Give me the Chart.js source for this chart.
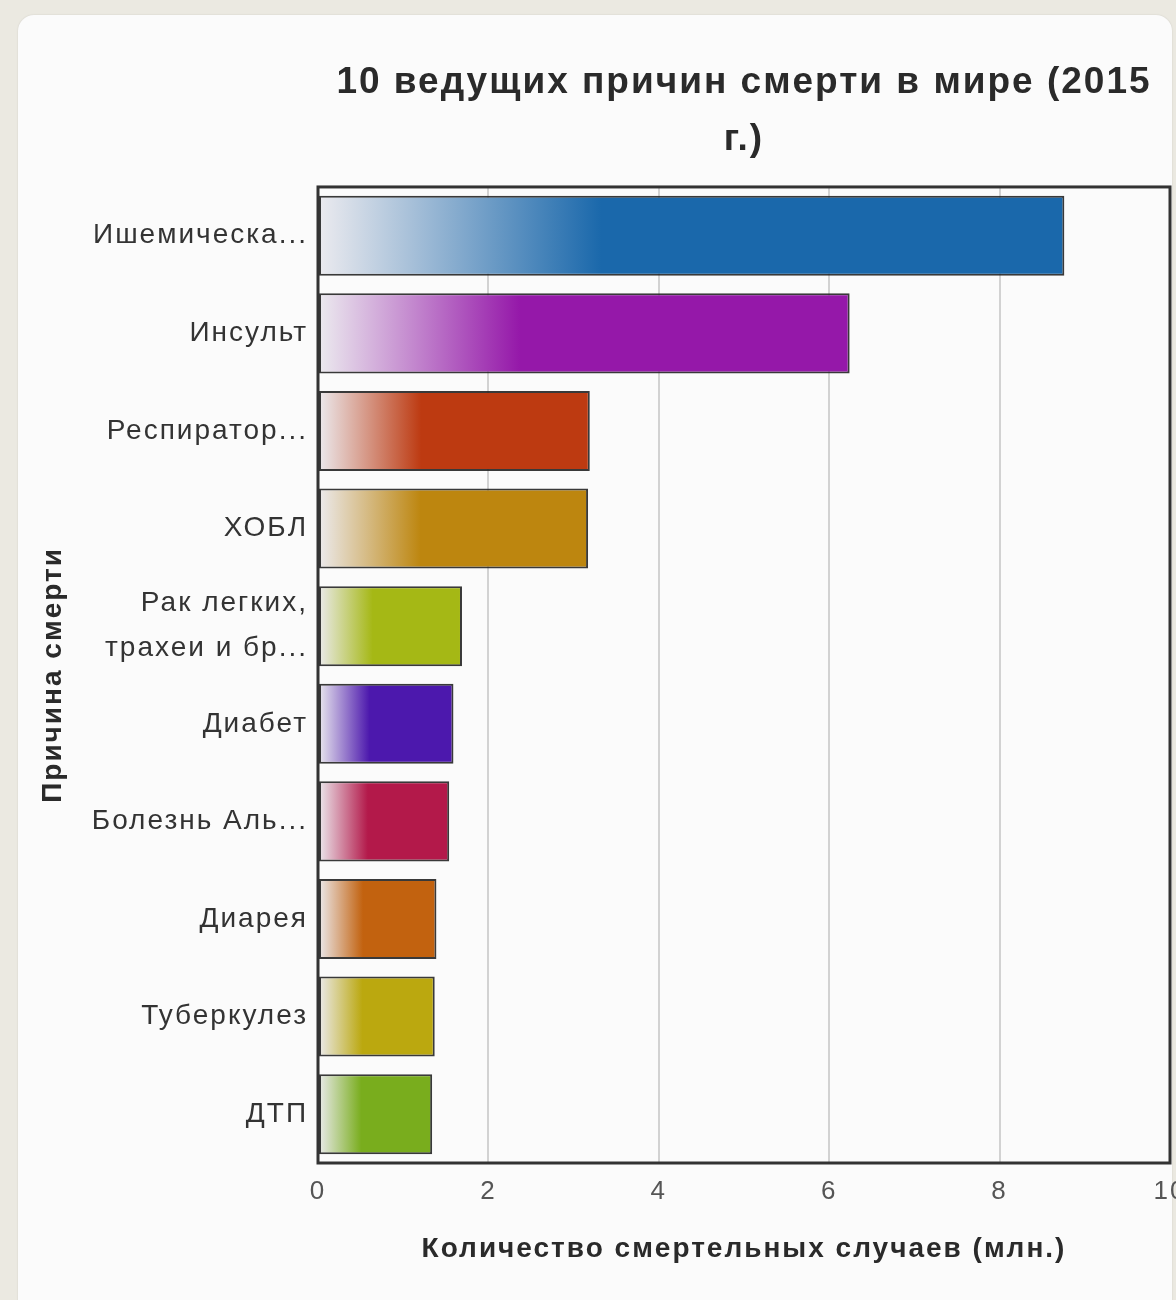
<!DOCTYPE html>
<html>
<head>
<meta charset="utf-8">
<script src="https://cdn.jsdelivr.net/npm/chart.js@4/dist/chart.umd.min.js"></script>
<style>
  html, body { margin: 0; padding: 0; }
  body {
    width: 1176px; height: 1300px; overflow: hidden; position: relative;
    background: #ebe9e1;
  }
  .card {
    position: absolute; left: 18px; top: 15px; width: 1154px; height: 1310px;
    background: #fbfbfb; border-radius: 16px;
    box-shadow: 0 0 2px rgba(0,0,0,0.12);
  }
  #wrap { position: absolute; left: 0; top: 0; width: 1176px; height: 1300px; }
</style>
</head>
<body>
<div class="card"></div>
<div id="wrap"><canvas id="chart" width="1176" height="1300"></canvas></div>
<script>
// causes of death, top to bottom
const causes = [
  'Ишемическа...',
  'Инсульт',
  'Респиратор...',
  'ХОБЛ',
  ['Рак легких,', 'трахеи и бр...'],
  'Диабет',
  'Болезнь Аль...',
  'Диарея',
  'Туберкулез',
  'ДТП'
];
// deaths, millions
const deaths = [8.76, 6.24, 3.19, 3.17, 1.69, 1.59, 1.54, 1.39, 1.37, 1.34];
const barColors = [
  '#1a68ab', '#9518a9', '#bd3a11', '#bd860f', '#a5b815',
  '#4c18ad', '#b3194a', '#c2620f', '#bba80f', '#79ad1d'
];
const xTicks = [0, 2, 4, 6, 8, 10];

const chartTitle = ['10 ведущих причин смерти в мире (2015', 'г.)'];
const xTitle = 'Количество смертельных случаев (млн.)';
const yTitle = 'Причина смерти';

const FONT = '"Liberation Sans", Arial, sans-serif';

// fade each bar from a pale grey at its base to its full colour
function barFill(ctx) {
  const chart = ctx.chart;
  const color = barColors[ctx.dataIndex];
  if (!chart.chartArea || ctx.raw == null) return color;
  const xs = chart.scales.x;
  const x0 = xs.getPixelForValue(0);
  const x1 = xs.getPixelForValue(ctx.raw);
  const g = chart.ctx.createLinearGradient(x0, 0, x0 + (x1 - x0) * 0.38, 0);
  g.addColorStop(0, '#ecebef');
  g.addColorStop(1, color);
  return g;
}

// the original text is set a little wider than Arial
const spacing = {
  id: 'spacing',
  beforeUpdate(chart) { chart.ctx.letterSpacing = '2px'; },
  beforeDraw(chart) { chart.ctx.letterSpacing = '2px'; }
};

const frame = {
  id: 'frame',
  afterDatasetsDraw(chart) {
    const { ctx, chartArea: a } = chart;
    ctx.save();
    ctx.strokeStyle = '#333';
    ctx.lineWidth = 3;
    ctx.strokeRect(a.left, a.top, a.right - a.left, a.bottom - a.top);
    ctx.restore();
  }
};

new Chart(document.getElementById('chart'), {
  type: 'bar',
  data: {
    labels: causes,
    datasets: [{
      data: deaths,
      backgroundColor: barFill,
      borderColor: 'rgba(35,35,35,0.9)',
      borderWidth: 2,
      borderSkipped: false,
      barPercentage: 0.82,
      categoryPercentage: 1
    }]
  },
  options: {
    indexAxis: 'y',
    responsive: false,
    animation: false,
    layout: { padding: { top: 20, left: 18, right: 6, bottom: 0 } },
    plugins: {
      legend: { display: false },
      tooltip: { enabled: false },
      title: {
        display: true,
        fullSize: false,
        text: chartTitle,
        color: '#2a2a2a',
        font: { family: FONT, size: 37, weight: 'bold', lineHeight: 1.54 },
        padding: { top: 34, bottom: 19 }
      }
    },
    scales: {
      x: {
        min: 0, max: 10,
        afterFit(s) { s.height = 137; s.paddingRight = 0; },
        afterBuildTicks(s) { s.ticks = xTicks.map(v => ({ value: v })); },
        grid: { color: '#d2d2d2', lineWidth: 2, drawTicks: false },
        border: { display: false },
        ticks: {
          color: '#555',
          padding: 13,
          font: { family: FONT, size: 26 }
        },
        title: {
          display: true,
          text: xTitle,
          color: '#2a2a2a',
          font: { family: FONT, size: 28, weight: 'bold' },
          padding: { top: 0, bottom: 34 }
        }
      },
      y: {
        afterFit(s) { s.width = 300; },
        grid: { display: false, drawTicks: false },
        border: { display: false },
        ticks: {
          color: '#333',
          padding: 10,
          font: { family: FONT, size: 28, lineHeight: 1.6 }
        },
        title: {
          display: true,
          text: yTitle,
          color: '#2a2a2a',
          font: { family: FONT, size: 28, weight: 'bold' },
          padding: { top: 18, bottom: 0 }
        }
      }
    }
  },
  plugins: [spacing, frame]
});
</script>
</body>
</html>
